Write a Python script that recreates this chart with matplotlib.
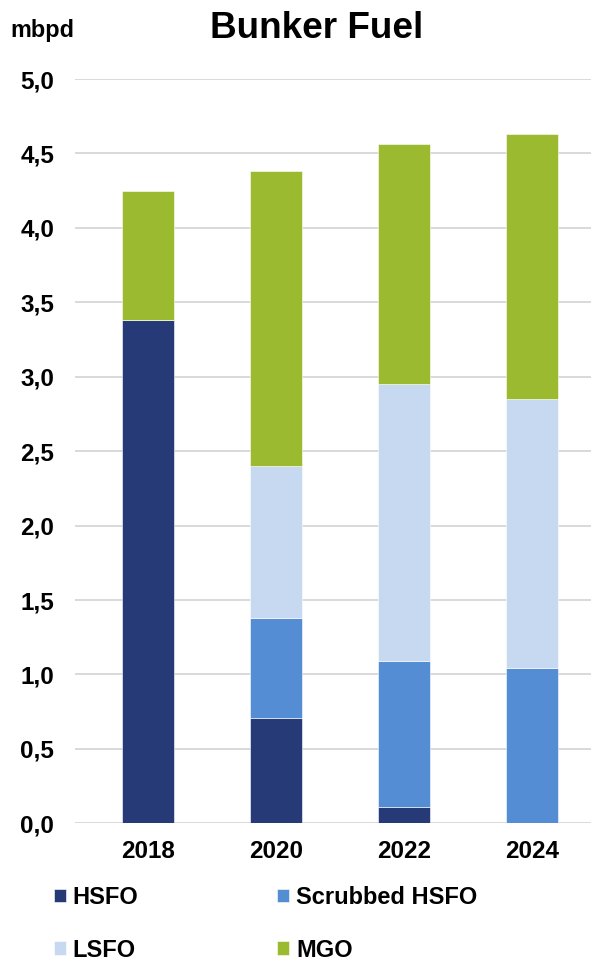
import matplotlib
matplotlib.use("Agg")
import matplotlib.pyplot as plt
import numpy as np

plt.rcParams['font.family'] = ['Liberation Sans', 'DejaVu Sans']
plt.rcParams['font.weight'] = 'bold'

years = ["2018", "2020", "2022", "2024"]
hsfo = [3.38, 0.71, 0.11, 0.00]
scrubbed_hsfo = [0.00, 0.67, 0.98, 1.04]
lsfo = [0.00, 1.02, 1.86, 1.81]
mgo = [0.87, 1.98, 1.61, 1.78]
y_ticks = [0.0, 0.5, 1.0, 1.5, 2.0, 2.5, 3.0, 3.5, 4.0, 4.5, 5.0]

series = [
    ("HSFO", hsfo, "#253A76"),
    ("Scrubbed HSFO", scrubbed_hsfo, "#548DD4"),
    ("LSFO", lsfo, "#C6D9F1"),
    ("MGO", mgo, "#9CBA2F"),
]

fig = plt.figure(figsize=(5.91, 9.60), dpi=100)
ax = fig.add_axes([75 / 591, 1 - 823.3 / 960, 1 - 75 / 591, (823.3 - 79) / 960])

x = np.arange(len(years))
bottom = np.zeros(len(years))
handles = {}
for name, vals, color in series:
    vals = np.array(vals)
    b = ax.bar(x, vals, width=0.40, bottom=bottom, color=color,
               edgecolor="white", linewidth=0.4, zorder=3, label=name)
    handles[name] = b
    bottom += vals

ax.set_ylim(0, 5.0)
ax.set_xlim(-0.57, 3.46)
ax.set_yticks(y_ticks)
ax.set_yticklabels([f"{v:.1f}".replace(".", ",") for v in y_ticks])
ax.set_xticks(x)
ax.set_xticklabels(years)
ax.tick_params(axis="y", length=0, pad=15, labelsize=17.5)
ax.tick_params(axis="x", length=0, pad=12, labelsize=17.5)
for lbl in ax.get_xticklabels() + ax.get_yticklabels():
    lbl.set_fontweight("bold")
ax.grid(axis="y", color="#d9d9d9", linewidth=1.4, zorder=0)
for s in ax.spines.values():
    s.set_visible(False)

fig.text(316.5 / 591, 1 - 28 / 960, "Bunker Fuel", ha="center", va="center",
         fontsize=26.6, fontweight="bold")
fig.text(10 / 591, 1 - 30 / 960, "mbpd", ha="left", va="center",
         fontsize=16.8, fontweight="bold")

order = ["HSFO", "LSFO", "Scrubbed HSFO", "MGO"]
leg = fig.legend([handles[n] for n in order], order, ncol=2,
                 loc="upper left", bbox_to_anchor=(54 / 591, 1 - 886 / 960),
                 frameon=False, fontsize=17, handlelength=0.5,
                 handleheight=0.5, handletextpad=0.28, columnspacing=5.9,
                 labelspacing=1.25, borderaxespad=0, borderpad=0)
for t in leg.get_texts():
    t.set_fontweight("bold")

fig.savefig("out.png", dpi=100)
